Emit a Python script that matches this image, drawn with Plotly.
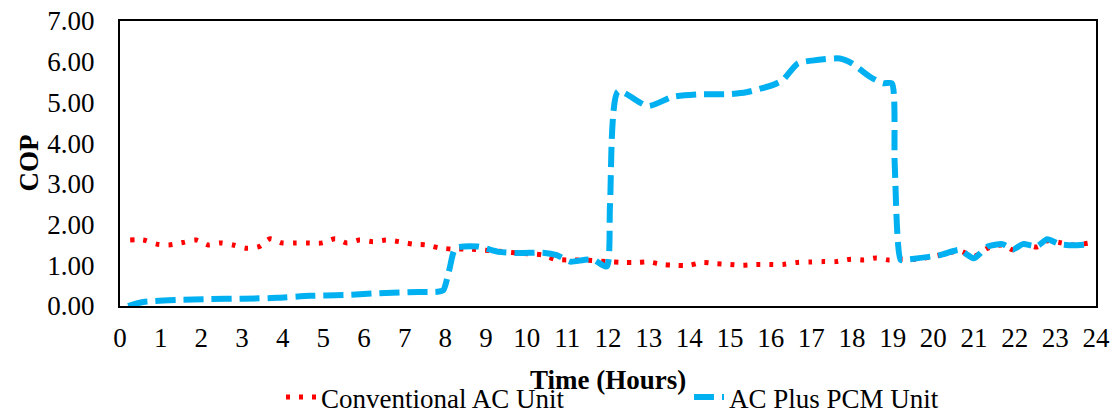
import plotly.graph_objects as go

# Conventional AC unit (red dotted)
conv_t = [0.25, 0.57, 0.9, 1.2, 1.55, 1.87, 2.16, 2.46, 2.78, 3.1, 3.42, 3.69, 3.98, 4.3, 4.62,
          4.97, 5.29, 5.58, 5.88, 6.22, 6.54, 6.86, 7.2, 7.52, 7.84, 8.16, 8.5, 9.14, 9.8, 10.4,
          10.7, 11.07, 11.4, 12.0, 12.37, 12.7, 13.0, 13.35, 13.67, 14.0, 14.33, 14.65, 15.0,
          15.3, 15.64, 15.96, 16.3, 16.65, 16.97, 17.3, 17.6, 17.97, 18.3, 18.6, 18.9, 19.2,
          19.6, 20.16, 20.65, 21.0, 21.34, 21.7, 21.96, 22.2, 22.55, 22.8, 23.1, 23.44, 23.85]
conv_cop = [1.62, 1.62, 1.52, 1.50, 1.56, 1.62, 1.50, 1.55, 1.50, 1.42, 1.46, 1.65, 1.55, 1.55, 1.55,
            1.55, 1.65, 1.55, 1.62, 1.58, 1.62, 1.58, 1.52, 1.50, 1.43, 1.40, 1.40, 1.36, 1.30, 1.25,
            1.15, 1.13, 1.13, 1.09, 1.07, 1.07, 1.08, 1.02, 1.00, 1.00, 1.07, 1.04, 1.02,
            1.00, 1.02, 1.02, 1.02, 1.07, 1.08, 1.09, 1.09, 1.15, 1.13, 1.18, 1.13, 1.15,
            1.15, 1.25, 1.35, 1.22, 1.42, 1.50, 1.38, 1.52, 1.45, 1.60, 1.56, 1.50, 1.55]

# AC plus PCM unit (blue dashed)
pcm_t = [0.2, 0.57, 1.4, 2.2, 3.0, 3.85, 4.67, 5.5, 6.3, 7.1, 7.8, 7.95, 8.1, 8.25, 8.8, 9.3,
         9.83, 10.4, 10.74, 11.07, 11.4, 11.64, 11.97, 12.05, 12.25, 12.98, 13.6, 14.26, 14.92,
         15.4, 16.06, 16.3, 16.67, 17.13, 17.7, 18.0, 18.44, 18.76, 18.98, 19.05, 19.2, 19.35,
         20.16, 20.65, 20.85, 21.0, 21.34, 21.7, 21.96, 22.2, 22.55, 22.8, 23.1, 23.44, 23.85]
pcm_cop = [0.00, 0.10, 0.15, 0.17, 0.18, 0.20, 0.25, 0.27, 0.31, 0.34, 0.35, 0.39, 0.90, 1.42, 1.46, 1.33,
           1.30, 1.31, 1.25, 1.09, 1.13, 1.14, 0.97, 2.50, 5.27, 4.91, 5.14, 5.20, 5.20,
           5.25, 5.43, 5.55, 5.96, 6.04, 6.08, 5.96, 5.63, 5.47, 5.47, 3.50, 1.13, 1.14,
           1.25, 1.38, 1.25, 1.17, 1.46, 1.52, 1.39, 1.52, 1.47, 1.64, 1.52, 1.49, 1.52]

x_ticks = list(range(0, 25))
y_ticks = [0, 1, 2, 3, 4, 5, 6, 7]

FONT = "Liberation Serif"
FS = 27

fig = go.Figure()
fig.add_trace(go.Scatter(
    x=conv_t, y=conv_cop, mode="lines", name="Conventional AC Unit",
    line=dict(color="#FF0000", width=5, dash="4px,9px", shape="spline", smoothing=0.8),
))
fig.add_trace(go.Scatter(
    x=pcm_t, y=pcm_cop, mode="lines", name="AC Plus PCM Unit",
    line=dict(color="#00B0F0", width=6, dash="20px,8px", shape="spline", smoothing=0.6),
))

fig.update_layout(
    width=1115, height=419,
    margin=dict(l=120, r=19, t=21, b=113, autoexpand=False),
    paper_bgcolor="white", plot_bgcolor="white",
    font=dict(family=FONT, size=FS, color="black"),
    showlegend=True,
    legend=dict(orientation="h", x=161 / 976, xanchor="left",
                y=-116 / 285, yanchor="bottom", font=dict(family=FONT, size=FS),
                entrywidth=363, entrywidthmode="pixels", bgcolor="rgba(0,0,0,0)",
                borderwidth=0, tracegroupgap=0),
    xaxis=dict(range=[0, 24], tickvals=x_ticks, ticktext=[str(v) for v in x_ticks],
               showgrid=False, zeroline=False, showline=True, linecolor="black", linewidth=2,
               mirror=True, ticks="", ticklabelstandoff=7, automargin=False,
               ticklabeloverflow="allow", tickfont=dict(family=FONT, size=FS)),
    yaxis=dict(range=[0, 7], tickvals=y_ticks, ticktext=[f"{v:.2f}" for v in y_ticks],
               showgrid=False, zeroline=False, showline=True, linecolor="black", linewidth=2,
               mirror=True, ticks="", ticklabelstandoff=18, automargin=False,
               ticklabeloverflow="allow", tickfont=dict(family=FONT, size=FS)),
)
fig.add_annotation(text="<b>COP</b>", xref="paper", yref="paper", x=-92 / 976, y=0.5,
                   xanchor="center", yanchor="middle", showarrow=False, textangle=-90,
                   font=dict(family=FONT, size=FS))
fig.add_annotation(text="<b>Time (Hours)</b>", xref="paper", yref="paper", x=0.5, y=-74 / 285,
                   xanchor="center", yanchor="middle", showarrow=False,
                   font=dict(family=FONT, size=FS))

fig.write_html("out.html", config={"displayModeBar": False},
               post_script="document.body.style.margin='0';document.body.style.overflow='hidden';")
